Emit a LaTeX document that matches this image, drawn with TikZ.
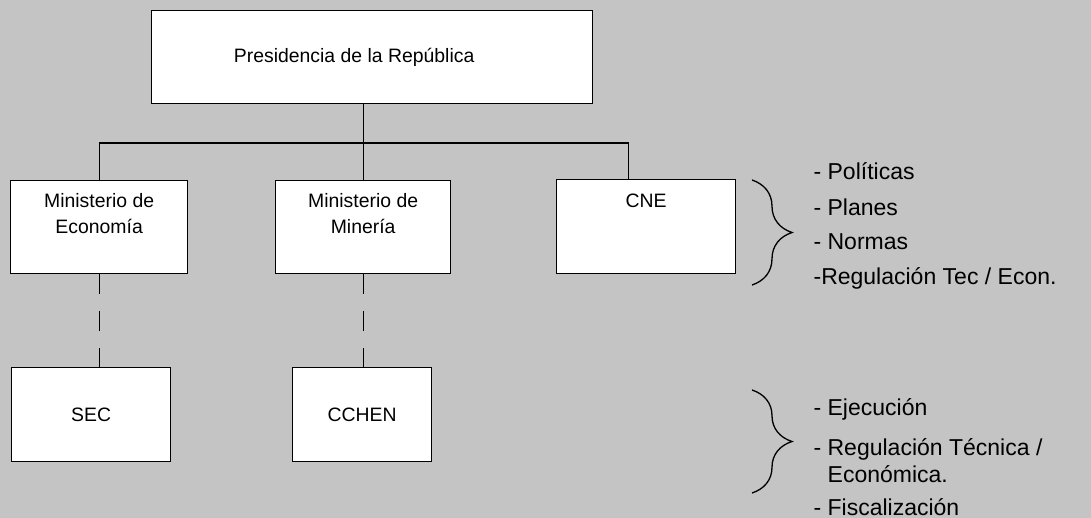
\documentclass[tikz,border=0pt]{standalone}
\usepackage{fontspec}
\setmainfont{Liberation Sans}
\usetikzlibrary{positioning, decorations.pathreplacing}
\definecolor{bggrey}{HTML}{C4C4C4}
\tikzset{
  every picture/.style={line width=1.2pt},
  orgbox/.style={draw=black, fill=white, line width=1.3pt, inner sep=0pt, minimum width=#1, minimum height=93pt, anchor=north west,
    font=\fontsize{19.4}{26}\selectfont},
  orgbox/.default=177pt,
  boxtext/.style={inner sep=0pt, align=center, font=\fontsize{19.4}{26}\selectfont},
  link/.style={draw=black, line width=1.2pt},
  sublink/.style={link, dash pattern=on 20pt off 17pt},
  brace/.style={decorate, decoration={brace, amplitude=40pt}, line width=1.3pt},
  roles/.style={inner sep=0pt, align=left, anchor=base west, font=\fontsize{23}{35}\selectfont},
}

\begin{document}
\begin{tikzpicture}[x=1pt, y=-1pt]
  \fill[bggrey] (0,0) rectangle (1091,518);
  \useasboundingbox (0,0) rectangle (1091,518);

  % top
  \node[orgbox=441pt] (pres) at (151,10) {};
  \node[boxtext] (presT) at ([xshift=-18pt]pres.center) {Presidencia de la República};

  % ministries
  \node[orgbox] (mecon) at (10,180) {};
  \node[boxtext, below=13pt of mecon.north] (meconT) {Ministerio de\\Economía};
  \node[orgbox=175pt] (mmin) at (275,180) {};
  \node[boxtext, below=13pt of mmin.north] (mminT) {Ministerio de\\Minería};
  \node[orgbox=179pt, minimum height=94pt] (cne) at (556,179) {};
  \node[boxtext, below=14pt of cne.north] (cneT) {CNE};

  % agencies
  \node[orgbox=159pt, minimum height=94pt] (sec) at (11,367) {SEC};
  \node[orgbox=139pt, minimum height=94pt] (cchen) at (292,367) {CCHEN};

  \coordinate (cnedrop) at ([xshift=-17.5pt]cne.north);
  \draw[link] (mmin.north) -- (mmin.north |- pres.south);
  \draw[link] (mecon.north) -- ++(0,-37) -| (cnedrop);
  \draw[sublink] (mecon.south) -- (mecon.south |- sec.north);
  \draw[sublink] (mmin.south) -- (mmin.south |- cchen.north);

  % roles (base = last line)
  \draw[brace] (752,180) -- (752,285);
  \node[roles] (rolA) at (813,285) {- Políticas\\- Planes\\- Normas\\-Regulación Tec / Econ.};
  \draw[brace] (752,390) -- (752,493);
  \node[roles] (rolB) at (813,515) {- Ejecución\\[5pt]- Regulación Técnica /\\[-8pt]\phantom{- }Económica.\\[-2pt]- Fiscalización};
\end{tikzpicture}
\end{document}
